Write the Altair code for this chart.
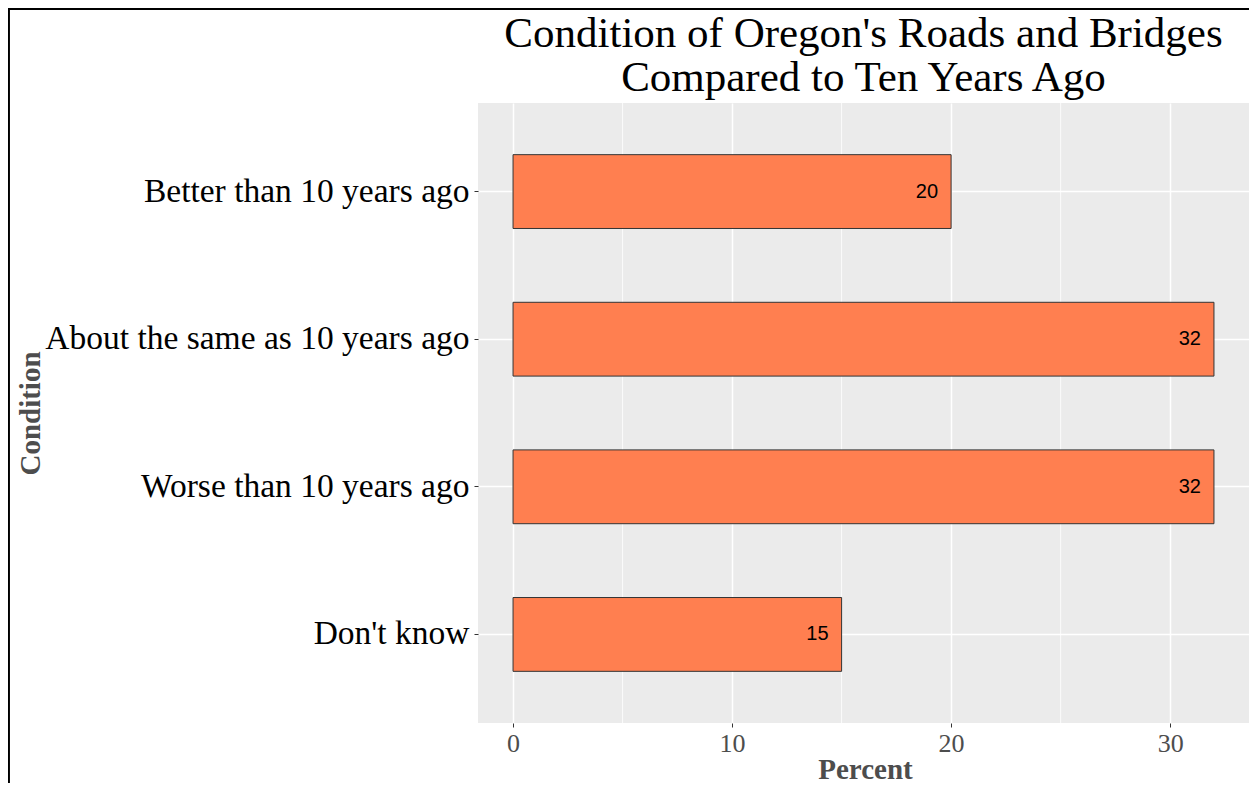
import altair as alt
import pandas as pd

categories = ["Better than 10 years ago", "About the same as 10 years ago",
              "Worse than 10 years ago", "Don't know"]
percents = [20, 32, 32, 15]
major_ticks = [0, 10, 20, 30]
minor_ticks = [5, 15, 25]

df = pd.DataFrame({"Condition": categories, "Percent": percents})
minor_df = pd.DataFrame({"Percent": minor_ticks})

W, H = 771, 620
PAD_L, PAD_T = 470, 95

xscale = alt.Scale(domain=[-1.6, 33.6], nice=False, zero=False)
yscale = alt.Scale(domain=categories, paddingInner=0.5, paddingOuter=0.35)

xaxis = alt.Axis(values=major_ticks, title="Percent", grid=True,
                 gridColor="white", gridWidth=1.5, domain=False,
                 tickColor="#333333", tickSize=4,
                 labelFont="Liberation Serif", labelFontSize=26,
                 labelColor="#4D4D4D", labelPadding=3,
                 titleFont="Liberation Serif", titleFontSize=29,
                 titleFontWeight="bold", titleColor="#4D4D4D",
                 titleX=387, titleY=55, titleBaseline="alphabetic",
                 titleAlign="center")

yaxis = alt.Axis(title="Condition", grid=True, gridColor="white",
                 gridWidth=1.5, bandPosition=0.5, domain=False,
                 tickColor="#333333", tickSize=4,
                 labelFont="Liberation Serif", labelFontSize=33.5,
                 labelColor="black", labelPadding=5, labelLimit=1000,
                 titleFont="Liberation Serif", titleFontSize=29,
                 titleFontWeight="bold", titleColor="#4D4D4D",
                 titleAngle=270, titleX=-448, titleY=310,
                 titleAlign="center", titleBaseline="middle")

base = alt.Chart(df)

minor = alt.Chart(minor_df).mark_rule(color="white", strokeWidth=0.8).encode(
    x=alt.X("Percent:Q", scale=xscale, axis=xaxis)
)

bars = base.mark_bar(color="#FF7F50", stroke="#333333", strokeWidth=1).encode(
    x=alt.X("Percent:Q", scale=xscale, axis=xaxis),
    y=alt.Y("Condition:N", scale=yscale, sort=categories, axis=yaxis),
)

labels = base.mark_text(align="right", baseline="middle", dx=-13,
                        font="Liberation Sans", fontSize=20, color="black").encode(
    x=alt.X("Percent:Q", scale=xscale, axis=xaxis),
    y=alt.Y("Condition:N", scale=yscale, sort=categories, axis=yaxis),
    text=alt.Text("Percent:Q"),
)

one = alt.Data(values=[{"a": 1}])
border_left = alt.Chart(one).mark_rule(color="black", strokeWidth=2.5).encode(
    x=alt.value(-469.3), y=alt.value(-95), y2=alt.value(H + 80)
)
border_top = alt.Chart(one).mark_rule(color="black", strokeWidth=3).encode(
    x=alt.value(-470.5), x2=alt.value(W + 20), y=alt.value(-94.5)
)

chart = alt.layer(minor, bars, labels, border_left, border_top).properties(
    width=W, height=H,
    padding={"left": PAD_L, "top": PAD_T, "right": 0, "bottom": 60},
    autosize=alt.AutoSizeParams(type="none"),
    title=alt.TitleParams(
        text=["Condition of Oregon's Roads and Bridges", "Compared to Ten Years Ago"],
        font="Liberation Serif", fontSize=43, fontWeight="normal", color="black",
        anchor="middle", frame="group", lineHeight=44, offset=4, dy=97,
    ),
).configure_view(fill="#EBEBEB", stroke=None)

chart.save("out.html", embed_options={"renderer": "svg", "actions": False})
